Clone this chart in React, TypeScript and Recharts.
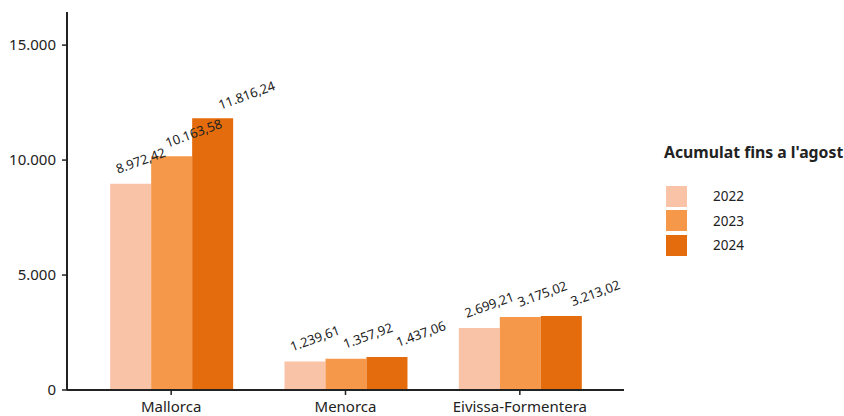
import { BarChart, Bar, XAxis, YAxis, LabelList } from 'recharts';

const islands = ['Mallorca', 'Menorca', 'Eivissa-Formentera'];
const years = ['2022', '2023', '2024'];
const values2022 = [8972.42, 1239.61, 2699.21];
const values2023 = [10163.58, 1357.92, 3175.02];
const values2024 = [11816.24, 1437.06, 3213.02];
const yTicks = [0, 5000, 10000, 15000];

const COLORS = ['#f9c3a8', '#f5984a', '#e46c0c'];
const FONT = '"Noto Sans", sans-serif';
const INK = '#222222';

const series = [values2022, values2023, values2024];
const data = islands.map((name, i) => {
  const row: Record<string, string | number> = { name };
  years.forEach((y, j) => {
    row[y] = series[j][i];
  });
  return row;
});

const fmtNum = (v: number, digits = 0) =>
  v.toLocaleString('de-DE', {
    minimumFractionDigits: digits,
    maximumFractionDigits: digits,
  });

function makeLabel(index: number) {
  return function BarLabel(props: any) {
    const { x, y, width, value } = props;
    const cx = x + width / 2 + 10 + 12 * index;
    const cy = y - 23;
    return (
      <text
        x={cx}
        y={cy}
        dy="0.35em"
        textAnchor="middle"
        fontSize={13}
        fontFamily={FONT}
        fill={INK}
        transform={`rotate(-20, ${cx}, ${cy})`}
      >
        {fmtNum(value, 2)}
      </text>
    );
  };
}

function LegendBox() {
  return (
    <div
      style={{
        position: 'absolute',
        left: 664,
        top: 141,
        width: 180,
        fontFamily: FONT,
        color: INK,
      }}
    >
      <div style={{ fontWeight: 700, fontSize: 15.8, marginBottom: 21, whiteSpace: 'nowrap' }}>
        Acumulat fins a l'agost
      </div>
      {years.map((y, i) => (
        <div key={y} style={{ display: 'flex', alignItems: 'center', height: 24.5 }}>
          <div style={{ width: 21, height: 21, background: COLORS[i], marginLeft: 2 }} />
          <span style={{ marginLeft: 26, fontSize: 13.5 }}>{y}</span>
        </div>
      ))}
    </div>
  );
}

export default function App() {
  return (
    <div style={{ position: 'absolute', left: 0, top: 0, width: 844, height: 416, background: '#fff' }}>
      <BarChart
        width={844}
        height={416}
        data={data}
        margin={{ top: 12, right: 220, bottom: 0, left: 0 }}
        barCategoryGap="15%"
        barGap={0}
      >
        <XAxis
          dataKey="name"
          padding={{ left: 17, right: 17 }}
          height={26}
          tickSize={5}
          tickMargin={6}
          axisLine={{ stroke: INK, strokeWidth: 2 }}
          tickLine={{ stroke: INK, strokeWidth: 1.5 }}
          tick={{ fontSize: 15, fontFamily: FONT, fill: INK }}
          interval={0}
        />
        <YAxis
          width={67}
          domain={[0, 16440]}
          ticks={yTicks}
          allowDataOverflow
          tickFormatter={(v: number) => fmtNum(v)}
          tickSize={5}
          tickMargin={6}
          axisLine={{ stroke: INK, strokeWidth: 2 }}
          tickLine={{ stroke: INK, strokeWidth: 1.5 }}
          tick={{ fontSize: 15, fontFamily: FONT, fill: INK }}
        />
        {years.map((y, i) => (
          <Bar key={y} dataKey={y} fill={COLORS[i]} isAnimationActive={false}>
            <LabelList dataKey={y} content={makeLabel(i)} />
          </Bar>
        ))}
      </BarChart>
      <LegendBox />
    </div>
  );
}
